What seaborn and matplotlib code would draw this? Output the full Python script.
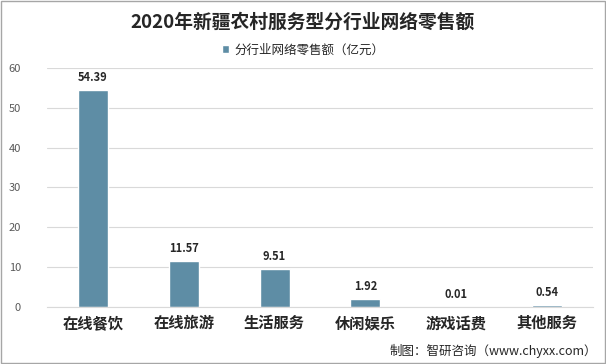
import pandas as pd
import seaborn as sns
import matplotlib.pyplot as plt
from matplotlib.patches import Patch

# data
categories = ['在线餐饮', '在线旅游', '生活服务', '休闲娱乐', '游戏话费', '其他服务']
values = [54.39, 11.57, 9.51, 1.92, 0.01, 0.54]
series_name = '分行业网络零售额（亿元）'

df = pd.DataFrame({'cat': categories, 'val': values})

sns.set_style('white')
plt.rcParams['font.family'] = ['Noto Sans CJK SC', 'DejaVu Sans']

bar_color = '#5e8da5'

fig = plt.figure(figsize=(6.06, 3.64), dpi=100)
ax = fig.add_axes([0.078, 0.157, 0.9, 0.656])

sns.barplot(data=df, x='cat', y='val', color=bar_color, width=0.33,
            saturation=1, ax=ax)

ax.set_ylim(0, 60)
ax.set_yticks(range(0, 61, 10))
ax.yaxis.grid(True, color='#d9d9d9', linewidth=0.8)
ax.set_axisbelow(True)
for s in ['top', 'right', 'left']:
    ax.spines[s].set_visible(False)
ax.spines['bottom'].set_color('#d9d9d9')
ax.set_xlabel('')
ax.set_ylabel('')
ax.tick_params(axis='y', length=0, labelsize=8, labelcolor='#595959', pad=19)
ax.tick_params(axis='x', length=0, labelsize=11, pad=6)
for lbl in ax.get_xticklabels():
    lbl.set_fontweight('bold')

# value labels
for i, v in enumerate(values):
    ax.text(i, v + 1.5, f'{v:.2f}', ha='center', va='bottom',
            fontsize=8, fontweight='bold', color='#262626')

fig.text(0.5, 0.94, '2020年新疆农村服务型分行业网络零售额', ha='center', va='center',
         fontsize=13.5, fontweight='bold', color='#262626')

handle = [Patch(facecolor=bar_color, label=series_name)]
fig.legend(handles=handle, loc='center', bbox_to_anchor=(0.5, 0.862), frameon=False,
           fontsize=9, handlelength=0.6, handleheight=0.6, handletextpad=0.4)

fig.text(0.985, 0.035, '制图：智研咨询（www.chyxx.com）', ha='right', va='center',
         fontsize=9, color='#262626')

# outer border
fig.patches.append(plt.Rectangle((0.002, 0.003), 0.996, 0.994, transform=fig.transFigure,
                                 fill=False, edgecolor='#a6a6a6', linewidth=1))

fig.savefig('out.png', dpi=100)
